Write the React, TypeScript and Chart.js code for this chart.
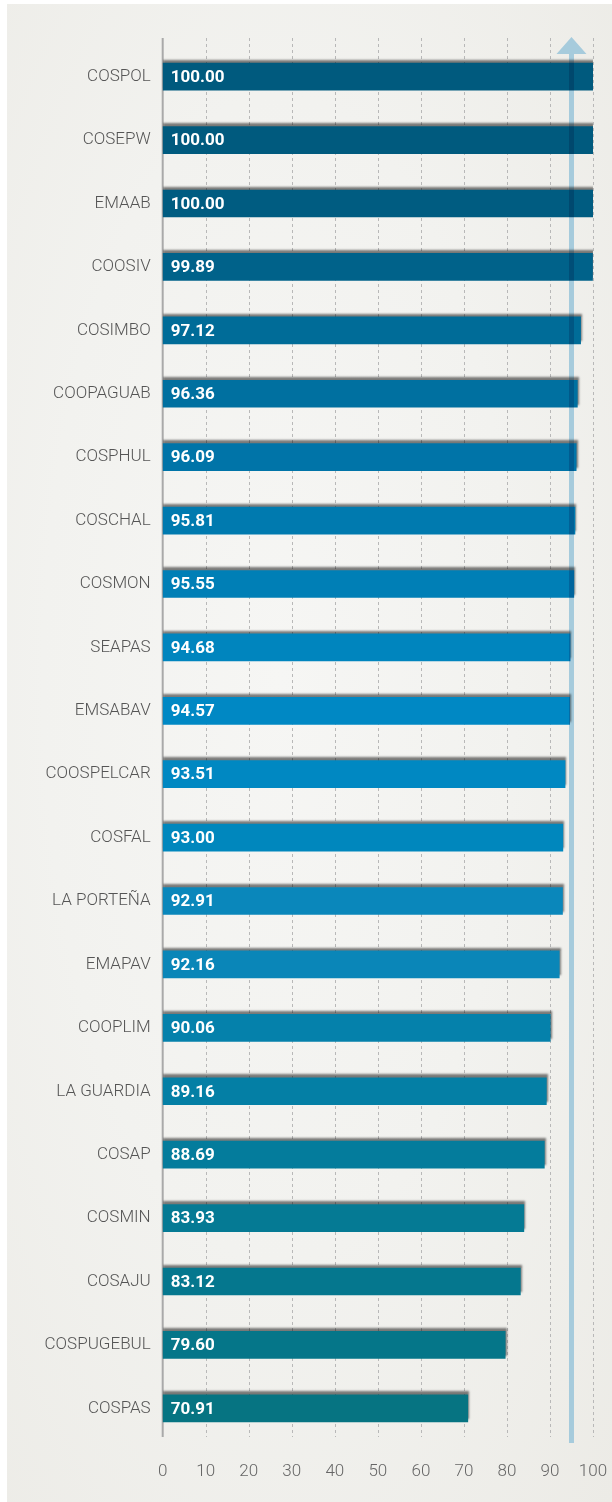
import React, { useEffect, useRef } from "react";
import { Chart, registerables } from "chart.js";

Chart.register(...registerables);

const categories = [
  "COSPOL", "COSEPW", "EMAAB", "COOSIV", "COSIMBO", "COOPAGUAB", "COSPHUL",
  "COSCHAL", "COSMON", "SEAPAS", "EMSABAV", "COOSPELCAR", "COSFAL",
  "LA PORTEÑA", "EMAPAV", "COOPLIM", "LA GUARDIA", "COSAP", "COSMIN",
  "COSAJU", "COSPUGEBUL", "COSPAS",
];
const values = [
  100.0, 100.0, 100.0, 99.89, 97.12, 96.36, 96.09, 95.81, 95.55, 94.68, 94.57,
  93.51, 93.0, 92.91, 92.16, 90.06, 89.16, 88.69, 83.93, 83.12, 79.6, 70.91,
];
const barColors = [
  "#005a7e", "#005a7e", "#005c81", "#00628a", "#006c98", "#0070a0", "#0074a8",
  "#007aaf", "#007fb6", "#0085be", "#0088c4", "#0088c2", "#0087bd", "#0a87bb",
  "#0a86b8", "#0581ab", "#047fa5", "#047c9c", "#057a94", "#05778e", "#057689",
  "#067482",
];
const targetValue = 95;
const xTicks = [0, 10, 20, 30, 40, 50, 60, 70, 80, 90, 100];

const FONT = "Roboto, 'Noto Sans', sans-serif";

export default function App() {
  const ref = useRef<HTMLCanvasElement | null>(null);

  useEffect(() => {
    document.body.style.margin = "0";
    const canvas = ref.current;
    if (!canvas) return;

    const decor = {
      id: "decor",
      beforeDatasetsDraw(chart: any) {
        const { ctx, chartArea } = chart;
        const xs = chart.scales.x;
        const top = chartArea.top - 7;
        const bottom = chartArea.bottom - 3;
        ctx.save();
        ctx.strokeStyle = "#b8b8b8";
        ctx.lineWidth = 1;
        ctx.setLineDash([3, 3]);
        xTicks.forEach((t) => {
          if (t === 0) return;
          const x = Math.round(xs.getPixelForValue(t)) + 0.5;
          ctx.beginPath();
          ctx.moveTo(x, top);
          ctx.lineTo(x, bottom);
          ctx.stroke();
        });
        ctx.setLineDash([]);
        ctx.strokeStyle = "#a9a9a9";
        ctx.lineWidth = 2;
        const x0 = xs.getPixelForValue(0);
        ctx.beginPath();
        ctx.moveTo(x0, top);
        ctx.lineTo(x0, bottom);
        ctx.stroke();
        ctx.restore();
      },
      beforeDatasetDraw(chart: any) {
        const ctx = chart.ctx;
        ctx.save();
        ctx.shadowColor = "rgba(0,0,0,0.5)";
        ctx.shadowBlur = 2;
        ctx.shadowOffsetX = 1;
        ctx.shadowOffsetY = -3;
      },
      afterDatasetDraw(chart: any) {
        chart.ctx.restore();
      },
      afterDatasetsDraw(chart: any) {
        const { ctx, chartArea } = chart;
        const meta = chart.getDatasetMeta(0);
        ctx.save();
        ctx.fillStyle = "#ffffff";
        ctx.font = `bold 17px ${FONT}`;
        ctx.textAlign = "left";
        ctx.textBaseline = "middle";
        meta.data.forEach((el: any, i: number) => {
          ctx.fillText(values[i].toFixed(2), chartArea.left + 8, el.y + 1);
        });
        // target arrow
        const xs = chart.scales.x;
        const ax = xs.getPixelForValue(targetValue);
        const tip = chartArea.top - 8;
        const headBase = tip + 17;
        const end = chartArea.bottom + 3;
        ctx.globalCompositeOperation = "multiply";
        ctx.fillStyle = "#a6cbdc";
        ctx.beginPath();
        ctx.moveTo(ax - 2.5, end);
        ctx.lineTo(ax - 2.5, headBase);
        ctx.lineTo(ax - 15, headBase);
        ctx.lineTo(ax, tip);
        ctx.lineTo(ax + 15, headBase);
        ctx.lineTo(ax + 2.5, headBase);
        ctx.lineTo(ax + 2.5, end);
        ctx.closePath();
        ctx.fill();
        ctx.restore();
      },
    };

    const chart = new Chart(canvas, {
      type: "bar",
      data: {
        labels: categories,
        datasets: [
          {
            data: values,
            backgroundColor: barColors,
            borderWidth: 0,
            barThickness: 27,
          },
        ],
      },
      options: {
        indexAxis: "y",
        responsive: false,
        animation: false,
        events: [],
        layout: { padding: { top: 45, right: 19, bottom: 0, left: 0 } },
        plugins: {
          legend: { display: false },
          tooltip: { enabled: false },
        },
        scales: {
          x: {
            type: "linear",
            min: 0,
            max: 100,
            ticks: {
              stepSize: 10,
              padding: 22,
              color: "#666666",
              font: { family: FONT, size: 17, weight: "300" as any },
            },
            grid: { display: false, drawTicks: false },
            border: { display: false },
            afterFit(scale: any) {
              scale.height = 62;
              scale.paddingRight = 0;
              scale.paddingLeft = 0;
            },
          },
          y: {
            type: "category",
            ticks: {
              padding: 12,
              color: "#555555",
              font: { family: FONT, size: 17, weight: "300" as any },
            },
            grid: { display: false, drawTicks: false },
            border: { display: false },
            afterFit(scale: any) {
              scale.width = 162.7;
              scale.paddingTop = 0;
              scale.paddingBottom = 0;
            },
          },
        },
      },
      plugins: [decor],
    });

    return () => chart.destroy();
  }, []);

  return (
    <div style={{ position: "absolute", left: 0, top: 0, width: 612, height: 1502, background: "#ffffff" }}>
      <div
        style={{
          position: "absolute",
          left: 7,
          top: 4,
          width: 605,
          height: 1498,
          background: "radial-gradient(ellipse at 45% 45%, #f6f6f4 0%, #f2f2ef 50%, #ecebe6 100%)",
        }}
      />
      <canvas ref={ref} width={612} height={1502} style={{ position: "absolute", left: 0, top: 0 }} />
    </div>
  );
}
